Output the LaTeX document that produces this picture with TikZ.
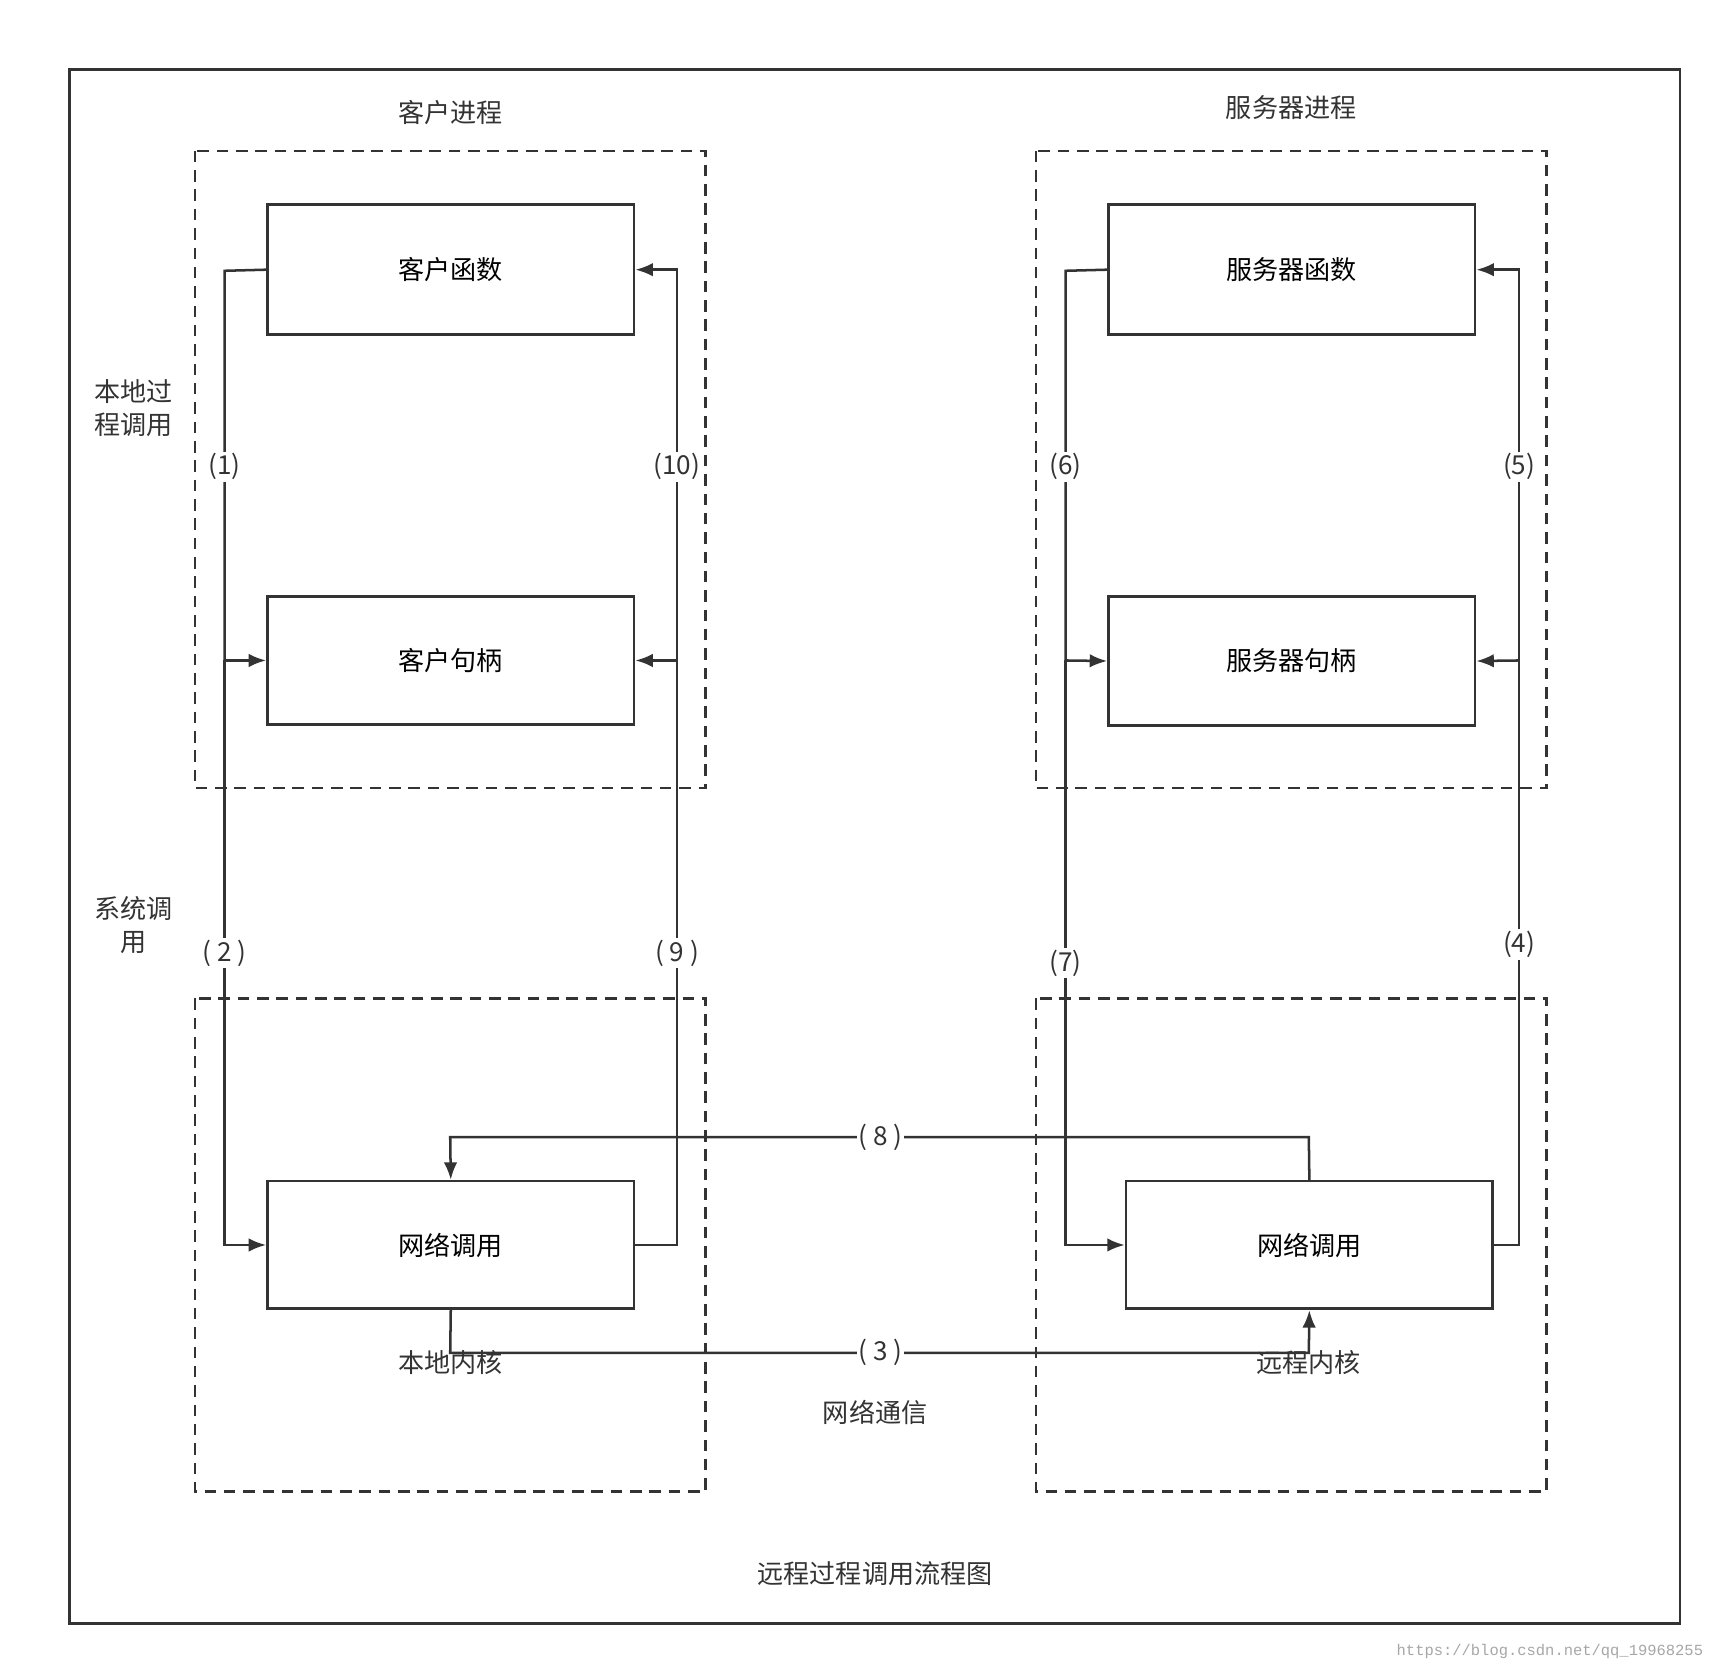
\documentclass[tikz,border=0pt]{standalone}
\usepackage{fontspec}
\setmainfont{Noto Sans CJK SC}
\newfontfamily\wmfont{Liberation Mono}
\usetikzlibrary{arrows.meta}
\definecolor{ink}{HTML}{333333}
\tikzset{
  boxn/.style={draw=ink,line width=1.4pt},
  dbox/.style={draw=ink,line width=1.3pt,dash pattern=on 6pt off 4pt},
  conn/.style={draw=ink,line width=1.3pt},
  arr/.style={conn,-{Latex[length=9pt,width=7pt]}},
  lbl/.style={fill=white,inner sep=1pt,text=ink},
  txt/.style={text=ink,align=center}
}
\begin{document}
\begin{tikzpicture}[x=0.02cm,y=-0.02cm,font=\fontsize{13.5}{17}\selectfont]
\useasboundingbox (0,0) rectangle (1568,1518);
\draw[conn] (63,63) rectangle (1526,1475);
% dashed groups
\draw[dbox] (177,137) rectangle (641,716);
\draw[dbox] (941,137) rectangle (1405,716);
\draw[dbox] (177,907) rectangle (641,1355);
\draw[dbox] (941,907) rectangle (1405,1355);
% boxes
\node[boxn,minimum width=0.02*333cm,minimum height=0.02*118cm] (cf) at (409.5,245) {客户函数};
\node[boxn,minimum width=0.02*333cm,minimum height=0.02*116cm] (ch) at (409.5,600) {客户句柄};
\node[boxn,minimum width=0.02*333cm,minimum height=0.02*116cm] (cn) at (409.5,1131) {网络调用};
\node[boxn,minimum width=0.02*333cm,minimum height=0.02*118cm] (sf) at (1173.5,245) {服务器函数};
\node[boxn,minimum width=0.02*333cm,minimum height=0.02*117cm] (sh) at (1173.5,600.5) {服务器句柄};
\node[boxn,minimum width=0.02*333cm,minimum height=0.02*116cm] (sn) at (1189.5,1131) {网络调用};
% texts
\node[txt] (t1) at (409,102) {客户进程};
\node[txt] (t2) at (1173,98) {服务器进程};
\node[txt] (t3) at (121,371) {本地过\\程调用};
\node[txt] (t4) at (121,840) {系统调\\用};
\node[txt] (t5) at (409,1238) {本地内核};
\node[txt] (t6) at (1189,1238) {远程内核};
\node[txt] (t7) at (795,1283) {网络通信};
\node[txt] (t8) at (795,1430) {远程过程调用流程图};
\node[text=gray!70,font=\wmfont\fontsize{8}{9}\selectfont] (wm) at (1408,1500) {https://blog.csdn.net/qq\_19968255};
% coordinates
\coordinate (c1) at (204,246);
\coordinate (c2) at (204,600);
\coordinate (c3) at (615,1131);
\coordinate (c4) at (615,600);
\coordinate (c5) at (968,246);
\coordinate (c6) at (968,600);
\coordinate (c7) at (1380,1131);
\coordinate (c8) at (1380,600);
% client left
\draw[conn] (cf.west) -- (c1) -- (c2);
\draw[arr] (c2) -- (ch.west);
\draw[arr] (c2) |- (cn.west);
% client right
\draw[conn] (cn.east) -- (c3) -- (c4);
\draw[arr] (c4) -- (ch.east);
\draw[arr] (c4) |- (cf.east);
% server left
\draw[conn] (sf.west) -- (c5) -- (c6);
\draw[arr] (c6) -- (sh.west);
\draw[arr] (c6) |- (sn.west);
% server right
\draw[conn] (sn.east) -- (c7) -- (c8);
\draw[arr] (c8) -- (sh.east);
\draw[arr] (c8) |- (sf.east);
% network
\coordinate (n8a) at (1189,1033);
\coordinate (n8b) at (409,1033);
\draw[arr] (sn.north) -- (n8a) -- (n8b) -- (cn.north);
\coordinate (n3a) at (409,1229);
\coordinate (n3b) at (1189,1229);
\draw[arr] (cn.south) -- (n3a) -- (n3b) -- (sn.south);
% labels
\node[lbl] (l1) at (204,424) {(1)};
\node[lbl] (l2) at (204,866) {( 2 )};
\node[lbl] (l10) at (615,424) {(10)};
\node[lbl] (l9) at (615,866) {( 9 )};
\node[lbl] (l6) at (968,424) {(6)};
\node[lbl] (l7) at (968,875) {(7)};
\node[lbl] (l5) at (1380,424) {(5)};
\node[lbl] (l4) at (1380,858) {(4)};
\node[lbl] (l8) at (800,1033) {( 8 )};
\node[lbl] (l3) at (800,1229) {( 3 )};
\end{tikzpicture}
\end{document}
